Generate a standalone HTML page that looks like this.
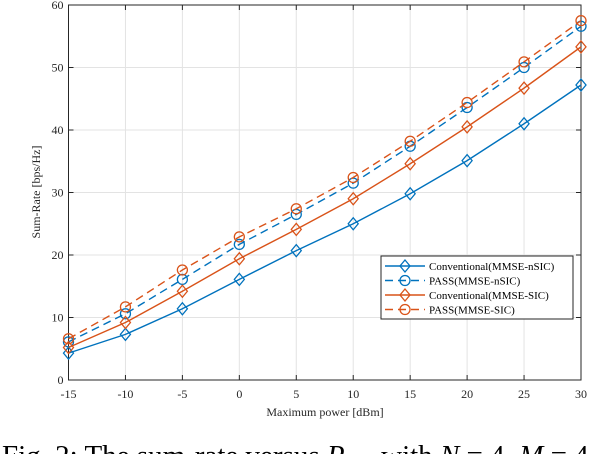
<!DOCTYPE html>
<html><head><meta charset="utf-8"><style>
body{margin:0;background:#fff;width:614px;height:454px;overflow:hidden;font-family:"Liberation Serif",serif}
</style></head><body>
<svg width="614" height="454" id="c" font-family="Liberation Serif, serif">
</svg>
<script>
const xVals=[-15,-10,-5,0,5,10,15,20,25,30];
const convNSIC=[4.3,7.3,11.4,16.1,20.7,25.0,29.8,35.1,41.0,47.2];
const passNSIC=[6.1,10.6,16.1,21.7,26.5,31.5,37.4,43.6,50.0,56.6];
const convSIC=[5.2,9.2,14.2,19.4,24.1,29.0,34.6,40.5,46.7,53.3];
const passSIC=[6.6,11.7,17.6,22.9,27.4,32.4,38.2,44.4,50.9,57.5];
const xTicks=[-15,-10,-5,0,5,10,15,20,25,30];
const yTicks=[0,10,20,30,40,50,60];
const L=68.5,R=581,T=5,B=380;
const sx=v=>L+(v+15)/45*(R-L), sy=v=>B-v/60*(B-T);
const svg=document.getElementById('c');const NS='http://www.w3.org/2000/svg';
function mk(t,a,p){const e=document.createElementNS(NS,t);for(const k in a)e.setAttribute(k,a[k]);(p||svg).appendChild(e);return e;}
mk('rect',{x:L,y:T,width:R-L,height:B-T,fill:'#fff'});
xTicks.forEach(v=>{const g=mk('line',{x1:sx(v),x2:sx(v),y1:T,y2:B,stroke:'#e3e3e3'});
const t=mk('text',{x:sx(v),y:398,'text-anchor':'middle','font-size':12,fill:'#262626'});t.textContent=v;
mk('line',{x1:sx(v),x2:sx(v),y1:B,y2:B-5,stroke:'#262626'});mk('line',{x1:sx(v),x2:sx(v),y1:T,y2:T+5,stroke:'#262626'});});
yTicks.forEach(v=>{const g=mk('line',{x1:L,x2:R,y1:sy(v),y2:sy(v),stroke:'#e3e3e3'});
const t=mk('text',{x:L-5,y:sy(v)+4,'text-anchor':'end','font-size':12,fill:'#262626'});t.textContent=v;
mk('line',{x1:L,x2:L+5,y1:sy(v),y2:sy(v),stroke:'#262626'});mk('line',{x1:R,x2:R-5,y1:sy(v),y2:sy(v),stroke:'#262626'});});
const ax=mk('rect',{x:L,y:T,width:R-L,height:B-T,fill:'none',stroke:'#262626'});
let t=mk('text',{x:325,y:416,'text-anchor':'middle','font-size':12,fill:'#262626'});t.textContent='Maximum power [dBm]';
t=mk('text',{x:0,y:0,'text-anchor':'middle','font-size':12,fill:'#262626',transform:'translate(40,192) rotate(-90)'});t.textContent='Sum-Rate [bps/Hz]';
const blue='#0072BD',red='#D95319';
function marker(x,y,type,col,p){if(type==='d')return mk('polygon',{points:`${x},${y-6} ${x+5},${y} ${x},${y+6} ${x-5},${y}`,fill:'none',stroke:col,'stroke-width':1.3},p);return mk('circle',{cx:x,cy:y,r:5,fill:'none',stroke:col,'stroke-width':1.3},p);}
const series=[[convNSIC,blue,'d',false,'Conventional(MMSE-nSIC)'],[passNSIC,blue,'o',true,'PASS(MMSE-nSIC)'],[convSIC,red,'d',false,'Conventional(MMSE-SIC)'],[passSIC,red,'o',true,'PASS(MMSE-SIC)']];
series.forEach((s,i)=>{const g=mk('g',{});
mk('polyline',{points:s[0].map((v,j)=>sx(xVals[j])+','+sy(v)).join(' '),fill:'none',stroke:s[1],'stroke-width':1.4,'stroke-dasharray':s[3]?'8,5':'none'},g);
s[0].forEach((v,j)=>marker(sx(xVals[j]),sy(v),s[2],s[1],g));});
const lg=mk('g',{});
mk('rect',{x:381,y:256,width:192,height:63,fill:'#fff',stroke:'#262626','stroke-width':1},lg);
series.forEach((s,i)=>{const y=266+i*14.5;const e=mk('g',{},lg);
mk('line',{x1:385,x2:425,y1:y,y2:y,stroke:s[1],'stroke-width':1.4,'stroke-dasharray':s[3]?'8,5':'none'},e);marker(405,y,s[2],s[1],e);
const tt=mk('text',{x:429,y:y+4,'font-size':11,fill:'#000'},e);tt.textContent=s[4];});
t=mk('text',{x:2,y:465,'font-size':29,fill:'#000'});t.innerHTML='Fig. 2: The sum-rate versus <tspan font-style="italic">P</tspan><tspan font-size="17" dy="5">max</tspan><tspan dy="-5"> with </tspan><tspan font-style="italic">N</tspan> = 4, <tspan font-style="italic">M</tspan> = 4';
</script>
</body></html>
